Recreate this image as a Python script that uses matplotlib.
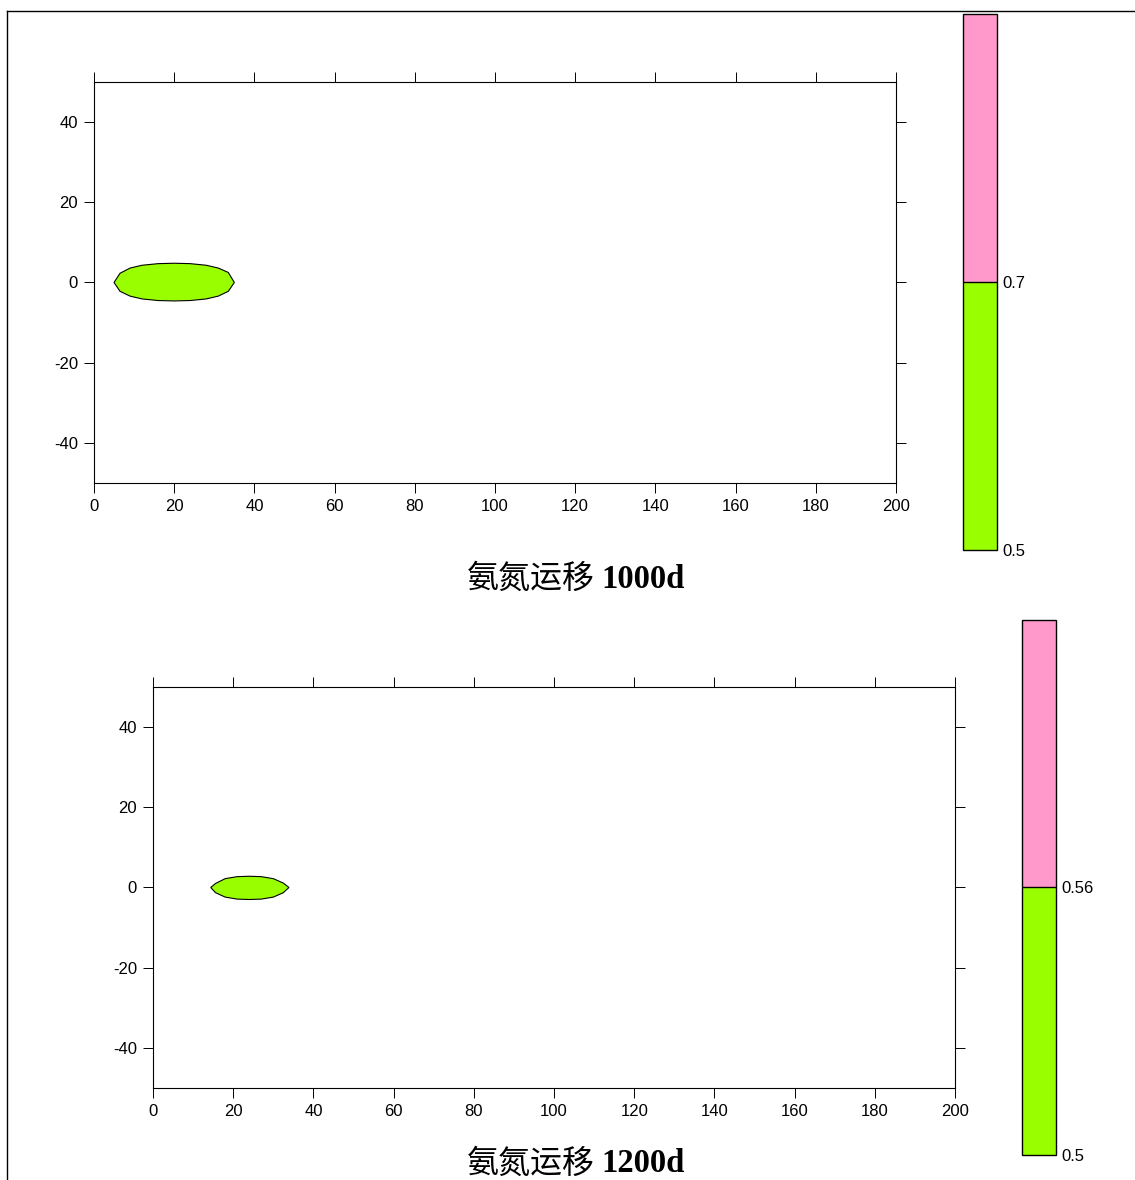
import numpy as np
import matplotlib.pyplot as plt
from matplotlib import colors as mcolors
from matplotlib.colorbar import ColorbarBase
from matplotlib.lines import Line2D

# plume outline (0.5 contour) at 1000 d
plume_1000_x = [5.0, 6.5, 9.0, 12.0, 16.0, 20.0, 24.0, 28.0, 31.0, 33.5, 35.0,
                33.5, 31.0, 28.0, 24.0, 20.0, 16.0, 12.0, 9.0, 6.5]
plume_1000_y = [0.0, 2.3, 3.6, 4.3, 4.7, 4.8, 4.7, 4.3, 3.6, 2.5, 0.0,
                -2.2, -3.4, -4.1, -4.5, -4.6, -4.5, -4.1, -3.4, -2.2]

# plume outline (0.5 contour) at 1200 d
plume_1200_x = [14.4, 15.6, 18.0, 21.0, 24.0, 27.0, 30.0, 32.5, 33.9,
                32.5, 30.0, 27.0, 24.0, 21.0, 18.0, 15.6]
plume_1200_y = [0.0, 1.0, 2.2, 2.7, 2.8, 2.7, 2.2, 1.1, 0.0,
                -1.3, -2.4, -2.9, -3.0, -2.9, -2.4, -1.3]

levels_1000 = [0.5, 0.7, 0.9]
levels_1200 = [0.5, 0.56, 0.62]
level_colors = ['#99FF00', '#FF99CC']

title_cn = '氨氮运移'
title_days = ['1000d', '1200d']
x_ticks = list(range(0, 201, 20))
y_ticks = [-40, -20, 0, 20, 40]

plt.rcParams['font.family'] = ['Liberation Sans', 'DejaVu Sans']
plt.rcParams['axes.unicode_minus'] = False

fig = plt.figure(figsize=(11.35, 11.8), dpi=100)


def draw_panel(rect, xs, ys):
    ax = fig.add_axes(rect)
    ax.fill(xs, ys, facecolor=level_colors[0], edgecolor='black', linewidth=0.8)
    ax.set_xlim(0, 200)
    ax.set_ylim(-50, 50)
    ax.set_xticks(x_ticks)
    ax.set_yticks(y_ticks)
    ax.tick_params(direction='out', length=7, width=0.7, labelsize=12, pad=4.5,
                   top=True, right=True, labeltop=False, labelright=False)
    for sp in ax.spines.values():
        sp.set_linewidth(0.8)
    return ax


def draw_scale(rect, levels):
    cax = fig.add_axes(rect)
    cmap = mcolors.ListedColormap(level_colors)
    norm = mcolors.BoundaryNorm(levels, cmap.N)
    cb = ColorbarBase(cax, cmap=cmap, norm=norm, boundaries=levels,
                      spacing='uniform', drawedges=True)
    cb.outline.set_linewidth(1.0)
    cb.dividers.set_linewidth(1.0)
    cb.set_ticks(levels[:2])
    cb.set_ticklabels([str(v) for v in levels[:2]])
    cax.minorticks_off()
    cax.tick_params(which='both', length=0, labelsize=12, pad=4)
    return cb


def draw_title(y, days):
    # Chinese part in a plain sans face, day count in bold serif
    fig.text(0.5245, y, title_cn, ha='right', va='center', fontsize=23,
             family=['Noto Sans CJK SC'])
    fig.text(0.5300, y, days, ha='left', va='center', fontsize=23.5,
             fontweight='bold', family=['Liberation Serif'])


draw_panel([0.0828, 0.5907, 0.7066, 0.3398], plume_1000_x, plume_1000_y)
draw_panel([0.1348, 0.0780, 0.7066, 0.3398], plume_1200_x, plume_1200_y)

draw_scale([0.8485, 0.5339, 0.0300, 0.4542], levels_1000)
draw_scale([0.9004, 0.0212, 0.0300, 0.4534], levels_1200)

draw_title(0.5093, title_days[0])
draw_title(0.0140, title_days[1])

# page frame (top and left edges)
fig.add_artist(Line2D([0.00617, 1.0], [0.9907, 0.9907], color='black', lw=1.0))
fig.add_artist(Line2D([0.00617, 0.00617], [0.0, 0.9907], color='black', lw=1.0))

fig.savefig('out.png', dpi=100)
